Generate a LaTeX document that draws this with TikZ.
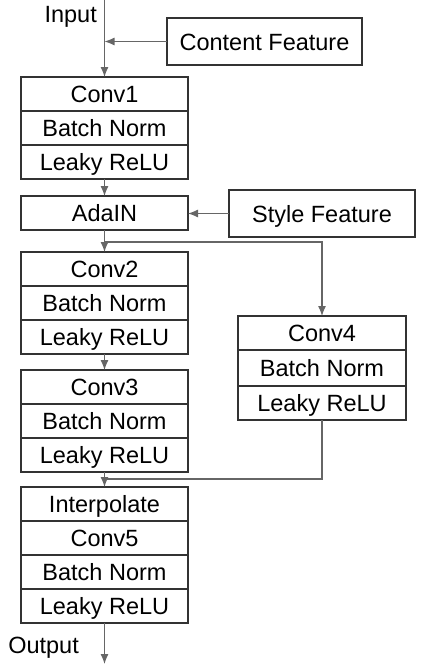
\documentclass[tikz,border=0pt]{standalone}
\usepackage{fontspec}
\setmainfont{Liberation Sans}
\usetikzlibrary{positioning,arrows.meta}

\begin{document}
\begin{tikzpicture}[x=1pt, y=-1pt,
  layer/.style={draw=black!80, line width=1.2pt, minimum width=167pt, minimum height=34pt, inner sep=0pt, outer sep=0pt, text height=17pt, text depth=0pt, font=\fontsize{23.5}{28}\selectfont},
  feat/.style={layer, minimum height=47pt},
  conn/.style={draw=black!60, line width=1.2pt, -{Latex[length=10pt,width=8pt]}},
  plain/.style={draw=black!60, line width=1.2pt}]
  \useasboundingbox (0,0) rectangle (425,664);

  % main column
  \node[layer] (conv1) at (104.5,94) {Conv1};
  \node[layer, below=0pt of conv1] (bn1) {Batch Norm};
  \node[layer, below=0pt of bn1] (lr1) {Leaky ReLU};
  \node[layer] (ada) at (104.5,213) {AdaIN};
  \node[layer] (conv2) at (104.5,269) {Conv2};
  \node[layer, below=0pt of conv2] (bn2) {Batch Norm};
  \node[layer, below=0pt of bn2] (lr2) {Leaky ReLU};
  \node[layer] (conv3) at (104.5,387) {Conv3};
  \node[layer, below=0pt of conv3] (bn3) {Batch Norm};
  \node[layer, below=0pt of bn3] (lr3) {Leaky ReLU};
  \node[layer] (interp) at (104.5,504) {Interpolate};
  \node[layer, below=0pt of interp] (conv5) {Conv5};
  \node[layer, below=0pt of conv5] (bn5) {Batch Norm};
  \node[layer, below=0pt of bn5] (lr5) {Leaky ReLU};

  % side branch
  \node[layer, minimum width=168pt] (conv4) at (322,333) {Conv4};
  \node[layer, minimum width=168pt, minimum height=36pt, below=0pt of conv4] (bn4) {Batch Norm};
  \node[layer, minimum width=168pt, below=0pt of bn4] (lr4) {Leaky ReLU};

  % features
  \node[feat, minimum width=195pt] (content) at (264.5,41.5) {Content Feature};
  \node[feat, minimum width=186pt] (style) at (322,213.5) {Style Feature};

  \coordinate (in) at (104.5,0);
  \coordinate (out) at (104.5,664);
  \coordinate (split) at (104.5,242);
  \coordinate (merge) at (104.5,479);
  \node[anchor=east, inner sep=0pt, font=\fontsize{23.5}{28}\selectfont] (inlabel) at (97,17) {Input};
  \node[anchor=east, inner sep=0pt, font=\fontsize{23.5}{28}\selectfont] (outlabel) at (79,648) {Output};

  \draw[conn] (in) -- (conv1.north);
  \draw[conn] (content.west) -- (content.west -| conv1.north);
  \draw[conn] (lr1.south) -- (ada.north);
  \draw[conn] (style.west) -- (style.west -| ada.east);
  \draw[conn] (ada.south) -- (conv2.north);
  \draw[conn] (split) -| (conv4.north);
  \draw[conn] (lr2.south) -- (conv3.north);
  \draw[conn] (lr3.south) -- (interp.north);
  \draw[plain] (lr4.south) |- (merge);
  \draw[conn] (lr5.south) -- (out);
\end{tikzpicture}
\end{document}
